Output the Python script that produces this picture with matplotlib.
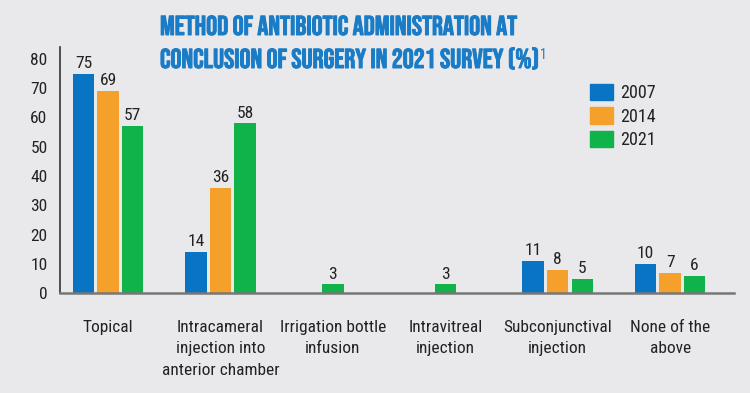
import matplotlib.pyplot as plt
import matplotlib.patheffects as pe

# survey data (%)
categories = ["Topical", "Intracameral\ninjection into\nanterior chamber",
              "Irrigation bottle\ninfusion", "Intravitreal\ninjection",
              "Subconjunctival\ninjection", "None of the\nabove"]
years = ["2007", "2014", "2021"]
vals_2007 = [75, 14, None, None, 11, 10]
vals_2014 = [69, 36, None, None, 8, 7]
vals_2021 = [57, 58, 3, 3, 5, 6]
yticks = [0, 10, 20, 30, 40, 50, 60, 70, 80]

colors = ["#0a74c4", "#f5a02a", "#10b24a"]
bg = "#e9e9eb"
txt = "#222222"
title_col = "#1a7cc6"
label_font = ["Roboto Condensed", "Archivo Narrow", "Roboto", "DejaVu Sans"]
title_font = ["Bebas Neue", "Oswald", "Barlow Condensed", "DejaVu Sans"]

fig = plt.figure(figsize=(7.5, 3.93), dpi=100, facecolor=bg)
ax = fig.add_axes([0.08, 0.254, 0.899, 0.626], facecolor=bg)

series = [vals_2007, vals_2014, vals_2021]
width = 0.191
step = 0.218
for i in range(len(categories)):
    present = [k for k in range(3) if series[k][i] is not None]
    n = len(present)
    for j, k in enumerate(present):
        x = i + (j - (n - 1) / 2) * step
        b = ax.bar(x, series[k][i], width=width, color=colors[k])
        ax.bar_label(b, padding=2, fontsize=12.5, color=txt, family=label_font)

ax.set_xlim(-0.427, 5.57)
ax.set_ylim(0, 84)
ax.set_yticks(yticks)
ax.set_xticks(range(len(categories)))
ax.set_xticklabels(categories, fontsize=12.5, color=txt, family=label_font,
                   linespacing=1.55, va="top")
ax.tick_params(axis="x", length=0, pad=19)
ax.tick_params(axis="y", length=0, pad=9, labelsize=12.5, labelcolor=txt)
for lab in ax.get_yticklabels():
    lab.set_family(label_font)

for s in ["top", "right"]:
    ax.spines[s].set_visible(False)
ax.spines["left"].set_color("#333333")
ax.spines["left"].set_linewidth(1.2)
ax.spines["bottom"].set_color("#777777")
ax.spines["bottom"].set_linewidth(1.8)

handles = [plt.Rectangle((0, 0), 1, 1, color=c) for c in colors]
fig.legend(handles, years, loc="upper left", bbox_to_anchor=(0.775, 0.81),
           frameon=False, borderpad=0, handlelength=1.25, handleheight=1.0,
           handletextpad=0.4, labelspacing=0.3,
           prop={"family": label_font, "size": 13}, labelcolor=txt)

# title, sized so the first line spans the same width as the original
bold = [pe.withStroke(linewidth=0.7, foreground=title_col)]
t1 = fig.text(160 / 750, 1 - 35 / 393, "METHOD OF ANTIBIOTIC ADMINISTRATION AT",
              fontsize=20, color=title_col, family=title_font, ha="left", va="baseline",
              path_effects=bold)
t2 = fig.text(160 / 750, 1 - 68 / 393, "CONCLUSION OF SURGERY IN 2021 SURVEY (%)",
              fontsize=20, color=title_col, family=title_font, ha="left", va="baseline",
              path_effects=bold)
r = fig.canvas.get_renderer()
size = 20 * 357 / t1.get_window_extent(r).width
t1.set_fontsize(size)
t2.set_fontsize(size)
end = t2.get_window_extent(r).x1
fig.text((end + 1) / 750, 1 - 55 / 393, "1", fontsize=size * 0.5, color=title_col,
         family=label_font, ha="left", va="center")

fig.savefig("out.png", dpi=100, facecolor=bg)
